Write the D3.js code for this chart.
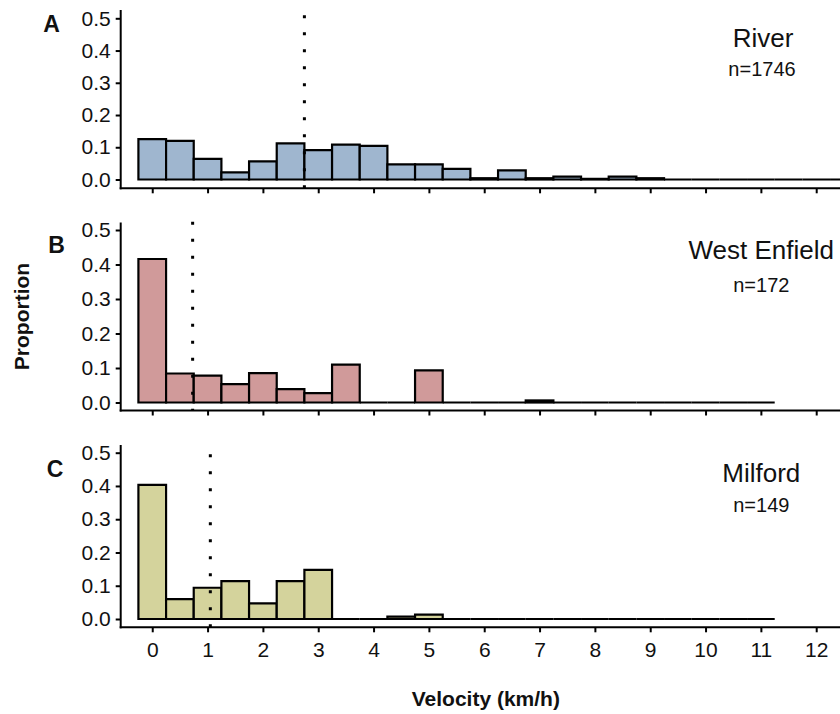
<!DOCTYPE html>
<html>
<head>
<meta charset="utf-8">
<script src="https://cdn.jsdelivr.net/npm/d3@7"></script>
<style>
  html, body { margin: 0; padding: 0; background: #fff; }
  svg { display: block; }
  text { font-family: "Liberation Sans", Arial, sans-serif; fill: #111; }
</style>
</head>
<body>
<svg id="chart" width="840" height="714"></svg>
<script>
// Velocity histograms (bin width 0.5 km/h, bins centred on multiples of 0.5)
const riverCenters = d3.range(0, 13, 0.5);      // 0 .. 12.5
const siteCenters  = d3.range(0, 11.5, 0.5);    // 0 .. 11

const riverProp = [0.125, 0.120, 0.064, 0.022, 0.056, 0.112, 0.091, 0.108, 0.104, 0.047,
                   0.047, 0.033, 0.004, 0.028, 0.004, 0.009, 0.002, 0.009, 0.004, 0,
                   0, 0, 0, 0, 0, 0];
const westEnfieldProp = [0.416, 0.084, 0.078, 0.053, 0.085, 0.039, 0.027, 0.110, 0, 0,
                         0.093, 0, 0, 0, 0.006, 0, 0, 0, 0, 0, 0, 0, 0];
const milfordProp = [0.403, 0.060, 0.094, 0.114, 0.047, 0.114, 0.148, 0, 0, 0.007,
                     0.013, 0, 0, 0, 0, 0, 0, 0, 0, 0, 0, 0, 0];

const panelLetters = ["A", "B", "C"];
const siteNames = ["River", "West Enfield", "Milford"];
const sampleSizes = [1746, 172, 149];
const meanVelocity = [2.75, 0.73, 1.05];
const yTicks = [0, 0.1, 0.2, 0.3, 0.4, 0.5];
const xTicks = d3.range(0, 13, 1);

const fills = ["#9fb6cf", "#d09a9a", "#d4d39c"];

// Panel geometry (pixel layout only)
const layout = [
  { top: 10,    zero: 179.5, half: 18.3,  axisY: 188.3, dotStart: 16.7,
    letter: [43.3, 32.3], title: [763, 46.5], n: [762, 76] },
  { top: 222.5, zero: 402.5, half: 230,   axisY: 410.5, dotStart: 223.3,
    letter: [48.3, 253.3], title: [761.3, 259.3], n: [761.3, 291.7] },
  { top: 445,   zero: 619,   half: 452.7, axisY: 627.3, dotStart: 455.7,
    letter: [46.7, 476.7], title: [761.3, 481.7], n: [761.3, 512.3] }
];

const series = [
  { centers: riverCenters, values: riverProp },
  { centers: siteCenters,  values: westEnfieldProp },
  { centers: siteCenters,  values: milfordProp }
];

const svg = d3.select("#chart");
const leftX = 120.7, rightX = 840;
const x = d3.scaleLinear().domain([-0.57, 12.43]).range([leftX, rightX]);
const binHalf = 0.25;

svg.append("defs").append("clipPath").attr("id", "plotclip")
  .append("rect").attr("x", leftX).attr("y", 0).attr("width", rightX - leftX).attr("height", 714);

series.forEach((s, i) => {
  const L = layout[i];
  const y = d3.scaleLinear().domain([0, 0.5]).range([L.zero, L.half]);
  const g = svg.append("g");

  // bars (as closed paths so empty bins still show as a line on the baseline)
  g.append("g").attr("clip-path", "url(#plotclip)")
    .selectAll("path").data(s.centers.map((c, k) => ({ c, v: s.values[k] })))
    .join("path")
    .attr("d", d => {
      const x0 = x(d.c - binHalf), x1 = x(d.c + binHalf);
      const y0 = y(0), y1 = y(d.v);
      return `M${x0},${y0}V${y1}H${x1}V${y0}Z`;
    })
    .attr("fill", fills[i])
    .attr("stroke", "#000")
    .attr("stroke-width", 2.2)
    .attr("stroke-linejoin", "miter");

  // mean velocity (dotted)
  g.append("line")
    .attr("x1", x(meanVelocity[i])).attr("x2", x(meanVelocity[i]))
    .attr("y1", L.dotStart - 1.5).attr("y2", L.axisY)
    .attr("stroke", "#000").attr("stroke-width", 3)
    .attr("stroke-dasharray", "3,14");

  // y axis
  const yAxis = g.append("g").attr("transform", `translate(${leftX},0)`)
    .call(d3.axisLeft(y).tickValues(yTicks).tickFormat(d3.format(".1f"))
      .tickSizeInner(5).tickSizeOuter(0).tickPadding(5));
  yAxis.select(".domain").remove();
  yAxis.selectAll(".tick line").attr("stroke", "#000").attr("stroke-width", 2);
  yAxis.selectAll(".tick text").style("font-size", "21px")
    .style("font-family", "'Liberation Sans', Arial, sans-serif").attr("fill", "#1a1a1a");

  // x axis
  const xAxis = g.append("g").attr("transform", `translate(0,${L.axisY})`)
    .call(d3.axisBottom(x).tickValues(xTicks).tickSizeInner(5).tickSizeOuter(0).tickPadding(9.5));
  xAxis.select(".domain").remove();
  xAxis.selectAll(".tick line").attr("stroke", "#000").attr("stroke-width", 2);
  xAxis.selectAll(".tick text").style("font-size", "21px")
    .style("font-family", "'Liberation Sans', Arial, sans-serif").attr("fill", "#1a1a1a");
  if (i < 2) xAxis.selectAll(".tick text").remove();

  // axis lines
  g.append("line").attr("x1", leftX).attr("x2", leftX).attr("y1", L.top).attr("y2", L.axisY + 1)
    .attr("stroke", "#000").attr("stroke-width", 2);
  g.append("line").attr("x1", leftX - 1).attr("x2", rightX).attr("y1", L.axisY).attr("y2", L.axisY)
    .attr("stroke", "#000").attr("stroke-width", 2);

  // panel letter
  g.append("text").attr("x", L.letter[0]).attr("y", L.letter[1])
    .style("font-size", "23px").style("font-weight", "bold").text(panelLetters[i]);

  // site name and sample size
  g.append("text").attr("x", L.title[0]).attr("y", L.title[1]).attr("text-anchor", "middle")
    .style("font-size", "26px").text(siteNames[i]);
  g.append("text").attr("x", L.n[0]).attr("y", L.n[1]).attr("text-anchor", "middle")
    .style("font-size", "20px").text("n=" + sampleSizes[i]);
});

// shared axis titles
svg.append("text")
  .attr("transform", "translate(28.5,316.5) rotate(-90)")
  .attr("text-anchor", "middle")
  .style("font-size", "21px").style("font-weight", "bold")
  .text("Proportion");

svg.append("text")
  .attr("x", 485.8).attr("y", 705.7).attr("text-anchor", "middle")
  .style("font-size", "21px").style("font-weight", "bold")
  .text("Velocity (km/h)");
</script>
</body>
</html>
